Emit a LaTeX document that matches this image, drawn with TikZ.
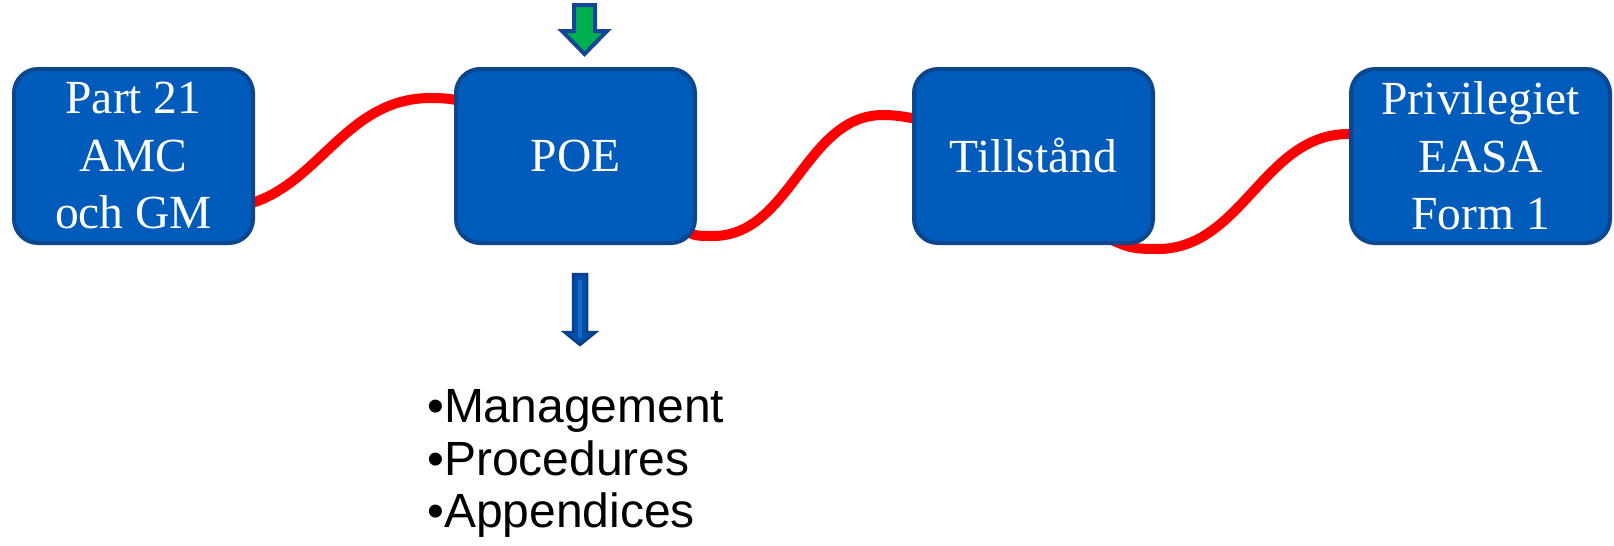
\documentclass[tikz,border=0pt]{standalone}
\usepackage{fontspec}
\setmainfont{Liberation Serif}
\newfontfamily\arialfont{Liberation Sans}
\usetikzlibrary{calc,backgrounds}
\definecolor{boxfill}{RGB}{0,91,187}
\definecolor{boxline}{RGB}{12,70,140}
\definecolor{arrgreen}{RGB}{0,176,80}
\definecolor{arrline}{RGB}{20,70,150}
\definecolor{blueA}{RGB}{0,78,165}
\definecolor{blueB}{RGB}{20,105,205}
\definecolor{blueL}{RGB}{10,62,138}
\begin{document}
\begin{tikzpicture}[x=1pt,y=-1pt,
  box/.style={draw=boxline, line width=4pt, fill=boxfill, rounded corners=24pt,
    minimum width=239pt, minimum height=174pt, inner sep=0pt, text=white,
    align=center, font=\fontsize{47.5}{57.5}\selectfont},
  link/.style={draw=red, line width=10pt},
  item/.style={anchor=base west, inner sep=0pt, font=\arialfont\fontsize{48}{52}\selectfont}]
\useasboundingbox (0,0) rectangle (1614,546);
\node[box] (b1) at (133.5,156) {Part 21\\AMC\\och GM};
\node[box] (b2) at (575.5,156) {POE};
\node[box] (b3) at (1033.5,156) {Tillstånd};
\node[box, minimum width=259pt] (b4) at (1480.5,156) {Privilegiet\\EASA\\Form 1};
\begin{scope}[on background layer]
\draw[link] ($(b1.center)+(85,52)$) .. controls +(95,0) and +(-95,0) ..
  ($(b2.center)+(-145,-58)$) .. controls +(20,0) and +(-15,-3) .. ($(b2.center)+(-105,-53)$);
\draw[link] ($(b2.center)+(100,70)$) .. controls +(20,10) and +(-20,0) ..
  ($(b2.center)+(137.5,80)$) .. controls +(78,0) and +(-78,0) ..
  ($(b3.center)+(-150.5,-41)$) .. controls +(15,0) and +(-10,-3) .. ($(b3.center)+(-110,-35)$);
\draw[link] ($(b3.center)+(70,80)$) .. controls +(25,12) and +(-25,0) ..
  ($(b3.center)+(124,93)$) .. controls +(85,0) and +(-85,0) ..
  ($(b4.center)+(-132,-22)$) -- ($(b4.center)+(-100,-22)$);
\end{scope}
\draw[draw=arrline, line width=4pt, fill=arrgreen, line join=miter]
  (574,5) -- (595,5) -- (595,31) -- (607,31) -- (584.5,54) -- (562,31) -- (574,31) -- cycle;
\draw[draw=blueL, line width=2.5pt, fill=blueA, line join=miter]
  (573,274) -- (587,274) -- (587,332) -- (596,332) -- (580,345) -- (564,332) -- (573,332) -- cycle;
\draw[blueB, line width=4pt] (580,280) -- (580,338);
\node[item] (l1) at (427,422) {•Management};
\node[item] (l2) at (427,475) {•Procedures};
\node[item] (l3) at (427,527) {•Appendices};
\end{tikzpicture}
\end{document}
